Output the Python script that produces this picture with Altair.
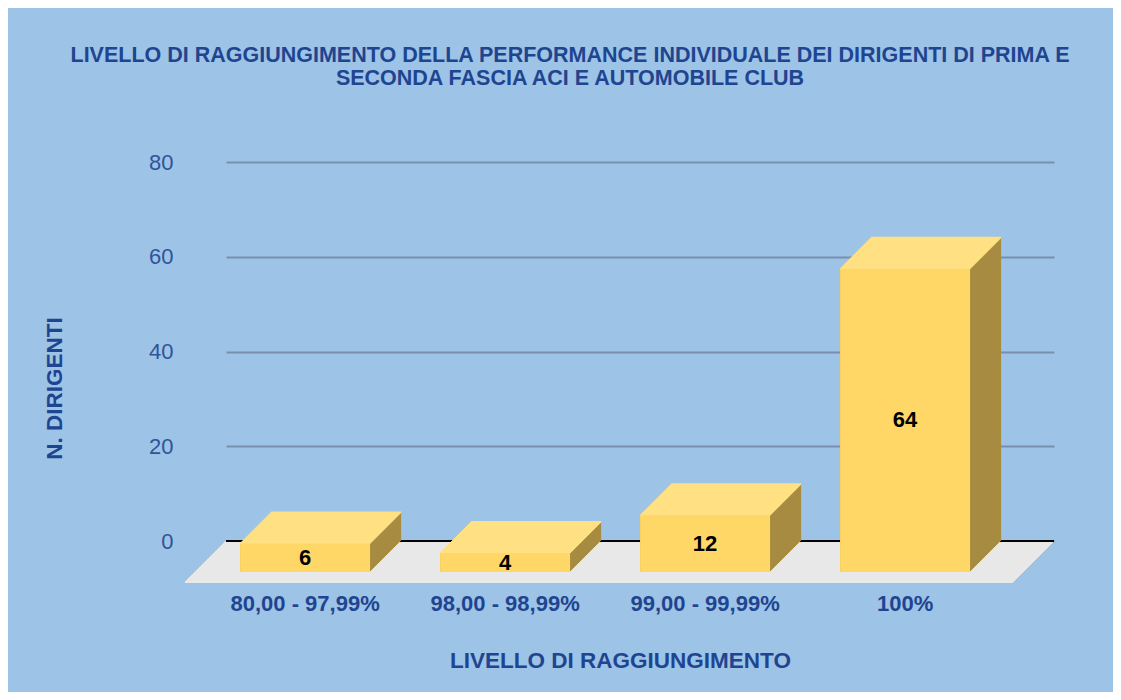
import altair as alt
import pandas as pd

# ---- data ----
categories = ["80,00 - 97,99%", "98,00 - 98,99%", "99,00 - 99,99%", "100%"]
values = [6, 4, 12, 64]
y_ticks = [0, 20, 40, 60, 80]

title_lines = [
    "LIVELLO DI RAGGIUNGIMENTO DELLA PERFORMANCE INDIVIDUALE DEI DIRIGENTI DI PRIMA E",
    "SECONDA FASCIA ACI E AUTOMOBILE CLUB",
]
x_title = "LIVELLO DI RAGGIUNGIMENTO"
y_title = "N. DIRIGENTI"

df = pd.DataFrame({"cat": categories, "v": values})

# ---- style ----
F = "Liberation Sans"
BG = "#9DC3E6"
NAVY = "#1F4590"
LABEL = "#2F5597"
GRID = "#7A8FAE"
FRONT = "#FFD766"
TOP = "#FFE083"
SIDE = "#A68B42"
FLOOR = "#E8E8E8"
W, H = 828, 379
DEPTH = 31
FLOOR_DEPTH = 41

xscale = alt.Scale(paddingInner=0.35, paddingOuter=0.245, align=0.46)
xaxis = alt.Axis(labelOffset=-DEPTH, labelPadding=52, labelFontSize=22, labelFontWeight="bold",
                 labelColor=NAVY, labelFont=F, labelAngle=0, domain=False, ticks=False, grid=False,
                 titleFontSize=22.5, titleFontWeight="bold", titleColor=NAVY, titleFont=F,
                 titleX=394, titleY=126, titleAlign="center", titleBaseline="alphabetic")
x_enc = alt.X("cat:N", sort=categories, scale=xscale, axis=xaxis, title=x_title)

yscale = alt.Scale(domain=[0, 80], nice=False, zero=True)
yaxis = alt.Axis(values=y_ticks, grid=True, gridColor=GRID, gridWidth=2, domain=False, ticks=False,
                 labelPadding=53, labelFontSize=22, labelColor=LABEL, labelFont=F,
                 titleFontSize=22.5, titleFontWeight="bold", titleColor=NAVY, titleFont=F,
                 titleAngle=270, titleX=-165, titleY=226, titleAlign="center", titleBaseline="alphabetic")
y_enc = alt.Y("v:Q", scale=yscale, axis=yaxis, title=y_title)

base = alt.Chart(df)
layers = []

# floor (parallelogram built from shifted horizontal rules)
for k in range(FLOOR_DEPTH + 1):
    layers.append(
        base.mark_rule(color=FLOOR, strokeWidth=1.5, xOffset=-k, x2Offset=-k, yOffset=k, y2Offset=k)
        .encode(x=alt.value(0), x2=alt.value(W), y=alt.Y(datum=0, scale=yscale, axis=yaxis, title=y_title))
    )

# zero line
layers.append(
    base.mark_rule(color="black", strokeWidth=2)
    .encode(x=alt.value(0), x2=alt.value(W), y=alt.Y(datum=0, scale=yscale, axis=yaxis, title=y_title))
)

# extrusion (side colour)
for k in range(DEPTH + 1):
    layers.append(
        base.mark_bar(color=SIDE, xOffset=-k, x2Offset=-k, yOffset=k, y2Offset=k)
        .encode(x=x_enc, y=y_enc)
    )

# top face
for k in range(DEPTH + 1):
    layers.append(
        base.mark_bar(color=TOP, stroke=TOP, strokeWidth=2, strokeJoin="bevel",
                      xOffset=-k, x2Offset=-k, yOffset=k, y2Offset=k)
        .encode(x=x_enc, y=y_enc, y2=alt.Y2("v:Q"))
    )

# front face
layers.append(
    base.mark_bar(color=FRONT, xOffset=-DEPTH, x2Offset=-DEPTH, yOffset=DEPTH, y2Offset=DEPTH)
    .encode(x=x_enc, y=y_enc)
)

# value labels
layers.append(
    base.transform_calculate(mid="datum.v / 2")
    .mark_text(dx=-DEPTH, dy=DEPTH, fontSize=22, fontWeight="bold", color="black", font=F, baseline="middle")
    .encode(x=x_enc, y=alt.Y("mid:Q", scale=yscale, axis=yaxis, title=y_title), text="v:Q")
)

chart = alt.layer(*layers).properties(
    width=W,
    height=H,
    background=BG,
    padding={"left": 218, "top": 154, "right": 59, "bottom": 151},
    autosize=alt.AutoSizeParams(type="none"),
    title=alt.TitleParams(title_lines, fontSize=21.5, font=F, fontWeight="bold", color=NAVY,
                          anchor="middle", dx=-70, offset=62, lineHeight=23),
).configure_view(stroke=None)

chart.save("out.html", embed_options={"renderer": "svg", "actions": False})
